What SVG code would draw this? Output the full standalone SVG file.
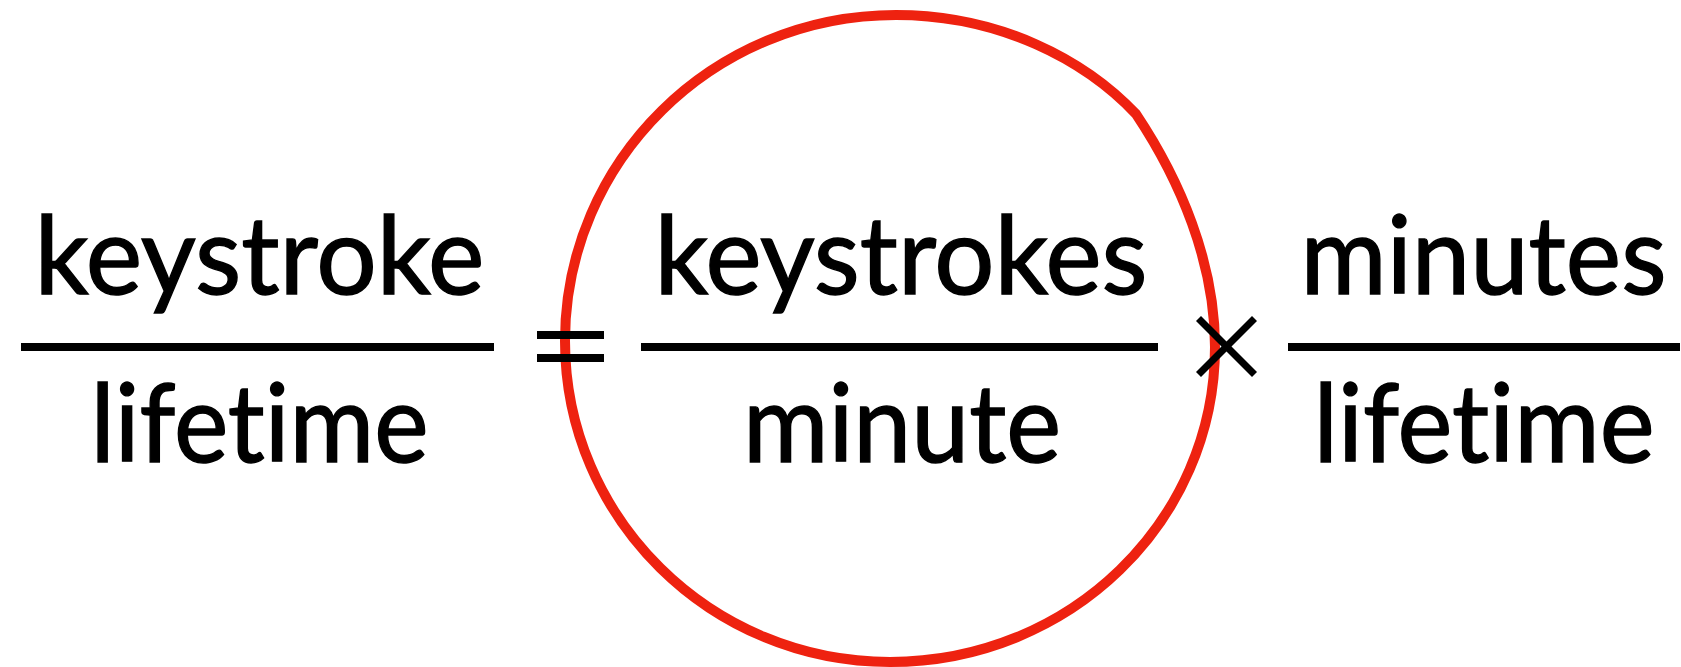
<svg xmlns="http://www.w3.org/2000/svg" width="1681" height="667" viewBox="0 0 1681 667">
  <style>
    .t { font-family: Lato, "Open Sans", "Liberation Sans", sans-serif; font-size: 108px; fill: #000; stroke: #000; stroke-width: 1.4; text-anchor: middle; font-variant-ligatures: none; font-feature-settings: "liga" 0, "clig" 0; }
    .bar { fill: #000; }
    .op { stroke: #000; stroke-width: 7; fill: none; stroke-linecap: butt; }
    .ring { fill: none; stroke: #EE2210; stroke-width: 10; stroke-linejoin: round; }
  </style>
  <rect width="1681" height="667" fill="#fff"/>
  <g id="highlight-circle">
    <path class="ring" d="M 1136 114 C 1180 180, 1215 262, 1215 347 C 1215 521, 1070 662, 890 662 C 710.5 662, 565 518, 565 341 C 565 161, 713 15, 896 15 C 1000 15, 1085 60, 1136 114 Z"/>
  </g>
  <g id="fraction-left">
    <text class="t" x="259.5" y="294" textLength="450" lengthAdjust="spacingAndGlyphs">keystroke</text>
    <rect class="bar" x="21" y="343" width="473" height="8"/>
    <text class="t" x="259.5" y="462" textLength="338" lengthAdjust="spacingAndGlyphs">lifetime</text>
  </g>
  <g id="equals">
    <rect class="bar" x="537" y="331" width="67" height="8"/>
    <rect class="bar" x="537" y="354" width="67" height="8"/>
  </g>
  <g id="fraction-middle">
    <text class="t" x="901" y="294" textLength="493" lengthAdjust="spacingAndGlyphs">keystrokes</text>
    <rect class="bar" x="641" y="343" width="517" height="8"/>
    <text class="t" x="902" y="462" textLength="318" lengthAdjust="spacingAndGlyphs">minute</text>
  </g>
  <g id="times">
    <line class="op" x1="1198.5" y1="318.5" x2="1254.5" y2="374.5"/>
    <line class="op" x1="1254.5" y1="318.5" x2="1198.5" y2="374.5"/>
  </g>
  <g id="fraction-right">
    <text class="t" x="1483.5" y="294" textLength="366" lengthAdjust="spacingAndGlyphs">minutes</text>
    <rect class="bar" x="1288" y="343" width="392" height="8"/>
    <text class="t" x="1484" y="462" textLength="341" lengthAdjust="spacingAndGlyphs">lifetime</text>
  </g>
</svg>
